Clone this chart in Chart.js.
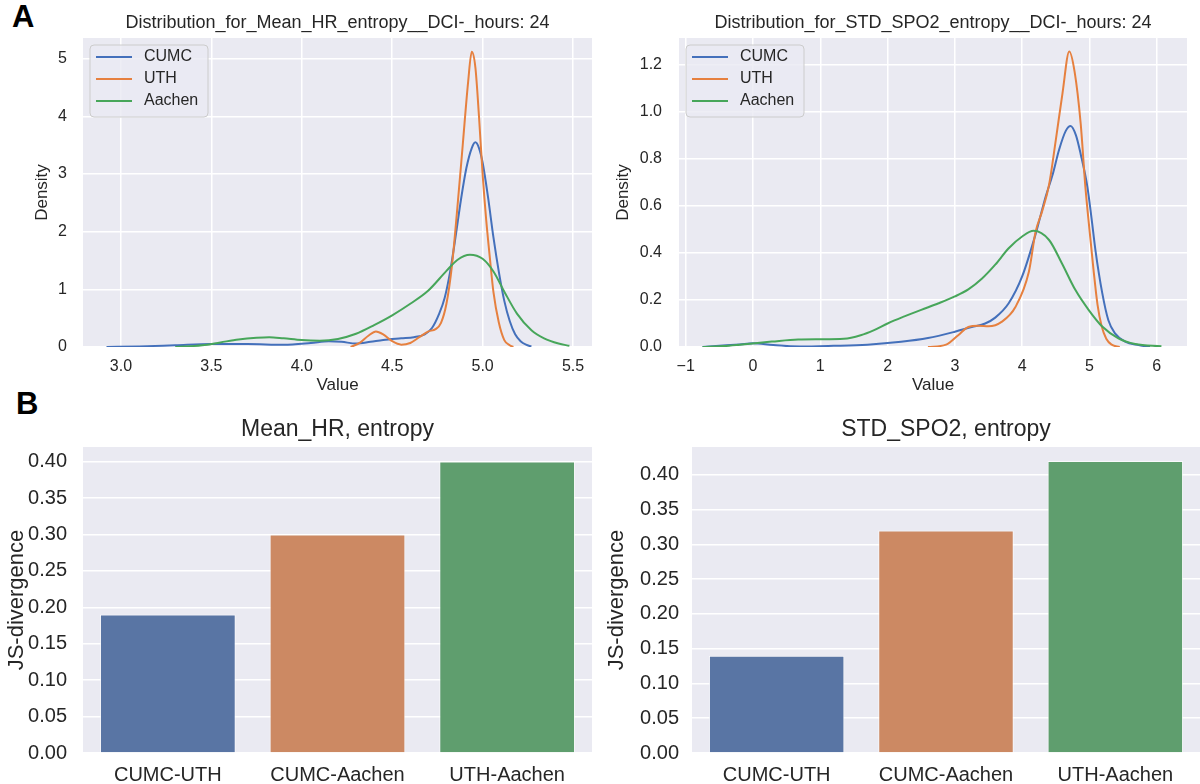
<!DOCTYPE html>
<html>
<head>
<meta charset="utf-8">
<script src="https://cdn.jsdelivr.net/npm/chart.js@4"></script>
<style>
  html, body { margin: 0; padding: 0; background: #fff; overflow: hidden; }
  body { width: 1200px; height: 784px; position: relative; }
  canvas { position: absolute; }
  .tag { position: absolute; font-family: "Liberation Sans", Arial, sans-serif; font-weight: bold; font-size: 31px; line-height: 31px; color: #000; }
</style>
</head>
<body>
<div class="tag" style="left:12px;top:1px">A</div>
<div class="tag" style="left:16px;top:388px">B</div>
<canvas id="hrKde" width="600" height="396" style="left:0;top:0"></canvas>
<canvas id="spoKde" width="600" height="396" style="left:600px;top:0"></canvas>
<canvas id="hrBar" width="600" height="384" style="left:0;top:400px"></canvas>
<canvas id="spoBar" width="600" height="384" style="left:600px;top:400px"></canvas>
<script>
// sites and colours
const sites = ['CUMC', 'UTH', 'Aachen'];
const siteColors = ['#4470bb', '#e6803f', '#47a65a'];
const barColors = ['#5975a4', '#cc8963', '#5f9e6e'];

// Mean_HR entropy density curves (value, density)
const hrCumcX = [2.92, 3.1, 3.3, 3.5, 3.7, 3.9, 4.05, 4.15, 4.22, 4.3, 4.38, 4.45, 4.55, 4.62, 4.68, 4.72, 4.76, 4.79, 4.82, 4.85, 4.88, 4.91, 4.94, 4.96, 4.98, 5.0, 5.03, 5.06, 5.09, 5.12, 5.15, 5.18, 5.21, 5.24, 5.27];
const hrCumcY = [0, 0.01, 0.03, 0.05, 0.05, 0.04, 0.07, 0.1, 0.09, 0.06, 0.09, 0.12, 0.15, 0.17, 0.22, 0.33, 0.58, 0.85, 1.3, 1.9, 2.55, 3.1, 3.45, 3.55, 3.45, 3.2, 2.6, 1.9, 1.3, 0.8, 0.45, 0.22, 0.1, 0.04, 0.01];
const hrUthX = [4.27, 4.32, 4.37, 4.41, 4.45, 4.5, 4.55, 4.6, 4.65, 4.7, 4.74, 4.77, 4.8, 4.83, 4.86, 4.89, 4.92, 4.94, 4.96, 4.98, 5.0, 5.02, 5.04, 5.06, 5.09, 5.12, 5.15, 5.17];
const hrUthY = [0, 0.07, 0.2, 0.27, 0.22, 0.1, 0.04, 0.07, 0.17, 0.27, 0.31, 0.42, 0.75, 1.4, 2.4, 3.5, 4.6, 5.12, 4.85, 4.0, 3.0, 2.2, 1.55, 0.95, 0.42, 0.12, 0.03, 0];
const hrAachenX = [3.3, 3.45, 3.55, 3.65, 3.75, 3.82, 3.9, 4.0, 4.1, 4.2, 4.3, 4.4, 4.5, 4.6, 4.7, 4.8, 4.86, 4.93, 5.0, 5.06, 5.12, 5.19, 5.27, 5.34, 5.42, 5.48];
const hrAachenY = [0, 0.03, 0.08, 0.13, 0.16, 0.17, 0.15, 0.12, 0.11, 0.14, 0.23, 0.38, 0.55, 0.75, 0.98, 1.32, 1.51, 1.6, 1.53, 1.31, 0.96, 0.58, 0.29, 0.15, 0.06, 0.02];

// STD_SPO2 entropy density curves
const spoCumcX = [-0.75, -0.5, -0.2, 0, 0.3, 0.7, 1.2, 1.7, 2.2, 2.6, 3.0, 3.25, 3.45, 3.6, 3.8, 4.0, 4.2, 4.35, 4.45, 4.55, 4.65, 4.72, 4.8, 4.87, 4.97, 5.03, 5.09, 5.19, 5.28, 5.38, 5.53, 5.73, 5.9];
const spoCumcY = [0, 0.005, 0.011, 0.016, 0.008, 0.002, 0.005, 0.01, 0.022, 0.038, 0.065, 0.085, 0.1, 0.125, 0.186, 0.3, 0.48, 0.64, 0.73, 0.84, 0.92, 0.94, 0.9, 0.82, 0.68, 0.55, 0.41, 0.23, 0.115, 0.058, 0.023, 0.008, 0];
const spoUthX = [2.6, 2.87, 3.05, 3.2, 3.35, 3.5, 3.7, 3.9, 4.1, 4.2, 4.3, 4.4, 4.5, 4.6, 4.7, 4.78, 4.87, 4.94, 5.0, 5.06, 5.12, 5.18, 5.25, 5.33, 5.45];
const spoUthY = [0, 0.01, 0.05, 0.085, 0.09, 0.088, 0.108, 0.17, 0.32, 0.49, 0.58, 0.69, 0.88, 1.08, 1.257, 1.17, 0.95, 0.68, 0.5, 0.33, 0.18, 0.09, 0.035, 0.01, 0];
const spoAachenX = [-0.75, -0.45, -0.2, 0.28, 0.67, 1.0, 1.35, 1.6, 1.8, 2.0, 2.25, 2.5, 2.75, 3.0, 3.2, 3.4, 3.6, 3.8, 4.0, 4.17, 4.4, 4.59, 4.79, 4.99, 5.19, 5.43, 5.68, 6.07];
const spoAachenY = [0, 0.004, 0.01, 0.023, 0.032, 0.033, 0.035, 0.05, 0.072, 0.1, 0.13, 0.158, 0.185, 0.215, 0.245, 0.29, 0.35, 0.42, 0.47, 0.494, 0.455, 0.356, 0.243, 0.157, 0.087, 0.037, 0.013, 0.003];

// JS-divergence between site pairs
const pairs = ['CUMC-UTH', 'CUMC-Aachen', 'UTH-Aachen'];
const hrJsd = [0.19, 0.30, 0.40];
const spoJsd = [0.14, 0.32, 0.42];

// tick labels
const hrXTicks = [3.0, 3.5, 4.0, 4.5, 5.0, 5.5];
const hrYTicks = [0, 1, 2, 3, 4, 5];
const spoXTicks = [-1, 0, 1, 2, 3, 4, 5, 6];
const spoYTicks = [0, 0.2, 0.4, 0.6, 0.8, 1.0, 1.2];
const jsdTicks = [0, 0.05, 0.10, 0.15, 0.20, 0.25, 0.30, 0.35, 0.40];

const FONT = '"Liberation Sans", Arial, sans-serif';
Chart.defaults.font.family = FONT;
Chart.defaults.color = '#262626';

function pts(xs, ys) {
    return xs.map((x, i) => ({ x: x, y: ys[i] }));
}

// grey axes background
const plotBg = {
    id: 'plotBg',
    beforeDraw(chart) {
        const a = chart.chartArea, ctx = chart.ctx;
        ctx.save();
        ctx.fillStyle = '#eaeaf2';
        ctx.fillRect(a.left, a.top, a.right - a.left, a.bottom - a.top);
        ctx.restore();
    }
};

// title centred over the plot area, like matplotlib
const axTitle = {
    id: 'axTitle',
    afterDraw(chart, args, opts) {
        const a = chart.chartArea, ctx = chart.ctx;
        ctx.save();
        ctx.font = opts.size + 'px ' + FONT;
        ctx.fillStyle = '#262626';
        ctx.textAlign = 'center';
        ctx.textBaseline = 'middle';
        ctx.fillText(opts.text, (a.left + a.right) / 2, opts.y);
        ctx.restore();
    }
};

// boxed legend in the upper left corner
const boxLegend = {
    id: 'boxLegend',
    afterDatasetsDraw(chart) {
        const a = chart.chartArea, ctx = chart.ctx;
        const x0 = a.left + 7, y0 = a.top + 7;
        ctx.save();
        ctx.beginPath();
        ctx.roundRect(x0, y0, 118, 72, 4);
        ctx.fillStyle = 'rgba(234,234,242,0.8)';
        ctx.fill();
        ctx.strokeStyle = '#cccccc';
        ctx.lineWidth = 1;
        ctx.stroke();
        ctx.font = '16px ' + FONT;
        ctx.textBaseline = 'middle';
        chart.data.datasets.forEach((ds, i) => {
            const y = y0 + 12 + i * 22;
            ctx.strokeStyle = ds.borderColor;
            ctx.lineWidth = 2;
            ctx.beginPath();
            ctx.moveTo(x0 + 6, y);
            ctx.lineTo(x0 + 42, y);
            ctx.stroke();
            ctx.fillStyle = '#262626';
            ctx.fillText(ds.label, x0 + 54, y);
        });
        ctx.restore();
    }
};

function kdeSet(i, xs, ys) {
    return {
        label: sites[i],
        data: pts(xs, ys),
        borderColor: siteColors[i],
        borderWidth: 2,
        pointRadius: 0,
        fill: false,
        cubicInterpolationMode: 'monotone',
        order: 2 - i
    };
}

function kdeChart(id, sets, o) {
    return new Chart(document.getElementById(id), {
        type: 'line',
        data: { datasets: sets },
        plugins: [plotBg, boxLegend, axTitle],
        options: {
            responsive: false,
            animation: false,
            devicePixelRatio: 1,
            layout: { padding: { top: 38, right: o.right, left: 0, bottom: 0 } },
            plugins: {
                legend: { display: false },
                tooltip: { enabled: false },
                axTitle: { text: o.title, size: 18, y: 23 }
            },
            scales: {
                x: {
                    type: 'linear', min: o.xmin, max: o.xmax,
                    afterBuildTicks: s => { s.ticks = o.xticks.map(v => ({ value: v })); },
                    afterFit: s => { s.height = 49; },
                    grid: { color: '#ffffff', lineWidth: 1.5, drawTicks: false },
                    border: { display: false },
                    ticks: { autoSkip: false, maxRotation: 0, padding: 10, font: { size: 16 }, callback: o.xfmt },
                    title: { display: true, text: 'Value', font: { size: 17 }, padding: { top: 0, bottom: 0 } }
                },
                y: {
                    min: 0, max: o.ymax,
                    afterBuildTicks: s => { s.ticks = o.yticks.map(v => ({ value: v })); },
                    afterFit: s => { s.width = o.yw; },
                    grid: { color: '#ffffff', lineWidth: 1.5, drawTicks: false },
                    border: { display: false },
                    ticks: { autoSkip: false, padding: o.tpad, font: { size: 16 }, callback: o.yfmt },
                    title: { display: true, text: 'Density', font: { size: 17 }, padding: { top: o.ttop, bottom: 0 } }
                }
            }
        }
    });
}

function barChart(id, vals, o) {
    return new Chart(document.getElementById(id), {
        type: 'bar',
        data: {
            labels: pairs,
            datasets: [{
                data: vals,
                backgroundColor: barColors,
                borderColor: 'rgba(255,255,255,0.7)',
                borderWidth: 1,
                barPercentage: 0.8,
                categoryPercentage: 1.0
            }]
        },
        plugins: [plotBg, axTitle],
        options: {
            responsive: false,
            animation: false,
            devicePixelRatio: 1,
            layout: { padding: { top: 47, right: o.right, left: 0, bottom: 0 } },
            plugins: {
                legend: { display: false },
                tooltip: { enabled: false },
                axTitle: { text: o.title, size: 23, y: 30 }
            },
            scales: {
                x: {
                    afterFit: s => { s.height = 31; },
                    grid: { display: false },
                    border: { display: false },
                    ticks: { padding: 2, font: { size: 20 } }
                },
                y: {
                    min: 0, max: o.ymax,
                    afterBuildTicks: s => { s.ticks = jsdTicks.map(v => ({ value: v })); },
                    afterFit: s => { s.width = o.yw; },
                    grid: { color: '#ffffff', lineWidth: 1.5, drawTicks: false },
                    border: { display: false },
                    ticks: { autoSkip: false, padding: o.tpad, font: { size: 20 }, callback: v => v.toFixed(2) },
                    title: { display: true, text: 'JS-divergence', font: { size: 22 }, padding: { top: 4, bottom: 0 } }
                }
            }
        }
    });
}

kdeChart('hrKde', [
    kdeSet(0, hrCumcX, hrCumcY),
    kdeSet(1, hrUthX, hrUthY),
    kdeSet(2, hrAachenX, hrAachenY)
], {
    title: 'Distribution_for_Mean_HR_entropy__DCI-_hours: 24',
    xmin: 2.79, xmax: 5.605, ymax: 5.36,
    xticks: hrXTicks, yticks: hrYTicks,
    xfmt: v => v.toFixed(1), yfmt: v => String(v),
    yw: 83, right: 8, tpad: 16, ttop: 32
});

kdeChart('spoKde', [
    kdeSet(0, spoCumcX, spoCumcY),
    kdeSet(1, spoUthX, spoUthY),
    kdeSet(2, spoAachenX, spoAachenY)
], {
    title: 'Distribution_for_STD_SPO2_entropy__DCI-_hours: 24',
    xmin: -1.1, xmax: 6.45, ymax: 1.314,
    xticks: spoXTicks, yticks: spoYTicks,
    xfmt: v => (v < 0 ? '\u2212' + Math.abs(v) : String(v)), yfmt: v => v.toFixed(1),
    yw: 79, right: 13, tpad: 17, ttop: 13
});

barChart('hrBar', hrJsd, { title: 'Mean_HR, entropy', ymax: 0.42, yw: 83, right: 8, tpad: 16 });
barChart('spoBar', spoJsd, { title: 'STD_SPO2, entropy', ymax: 0.44, yw: 92, right: 0, tpad: 13 });
</script>
</body>
</html>
